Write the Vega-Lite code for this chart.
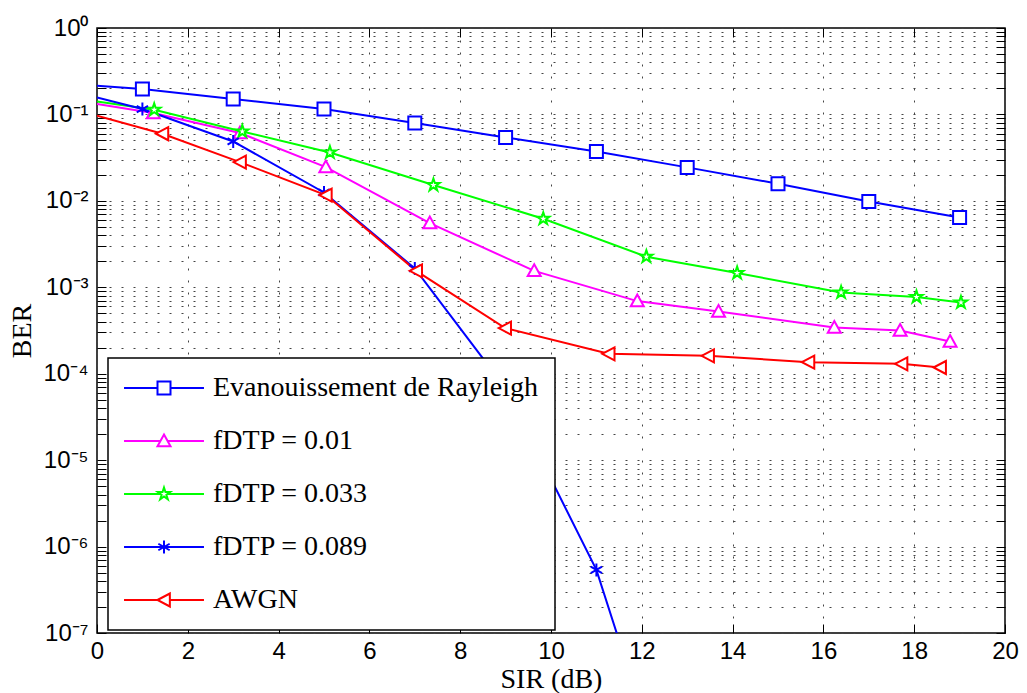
{
  "$schema": "https://vega.github.io/schema/vega-lite/v6.json",
  "width": 908,
  "height": 605,
  "autosize": {"type": "none"},
  "padding": {"left": 97, "top": 28, "right": 22, "bottom": 60},
  "background": "white",
  "data": {
    "values": [
      {"series": "Evanouissement de Rayleigh", "sir": 0, "ber": 0.215},
      {"series": "Evanouissement de Rayleigh", "sir": 1, "ber": 0.197},
      {"series": "Evanouissement de Rayleigh", "sir": 3, "ber": 0.151},
      {"series": "Evanouissement de Rayleigh", "sir": 5, "ber": 0.1155},
      {"series": "Evanouissement de Rayleigh", "sir": 7, "ber": 0.0796},
      {"series": "Evanouissement de Rayleigh", "sir": 9, "ber": 0.0542},
      {"series": "Evanouissement de Rayleigh", "sir": 11, "ber": 0.0373},
      {"series": "Evanouissement de Rayleigh", "sir": 13, "ber": 0.0244},
      {"series": "Evanouissement de Rayleigh", "sir": 15, "ber": 0.0158},
      {"series": "Evanouissement de Rayleigh", "sir": 17, "ber": 0.00984},
      {"series": "Evanouissement de Rayleigh", "sir": 19, "ber": 0.00643},
      {"series": "fDTP = 0.01", "sir": 0, "ber": 0.132},
      {"series": "fDTP = 0.01", "sir": 1.24, "ber": 0.1038},
      {"series": "fDTP = 0.01", "sir": 3.15, "ber": 0.0609},
      {"series": "fDTP = 0.01", "sir": 5.04, "ber": 0.0246},
      {"series": "fDTP = 0.01", "sir": 7.33, "ber": 0.00553},
      {"series": "fDTP = 0.01", "sir": 9.63, "ber": 0.00155},
      {"series": "fDTP = 0.01", "sir": 11.9, "ber": 0.000692},
      {"series": "fDTP = 0.01", "sir": 13.69, "ber": 0.000525},
      {"series": "fDTP = 0.01", "sir": 16.24, "ber": 0.000343},
      {"series": "fDTP = 0.01", "sir": 17.69, "ber": 0.000316},
      {"series": "fDTP = 0.01", "sir": 18.79, "ber": 0.000236},
      {"series": "fDTP = 0.033", "sir": 0, "ber": 0.1414},
      {"series": "fDTP = 0.033", "sir": 1.26, "ber": 0.1133},
      {"series": "fDTP = 0.033", "sir": 3.2, "ber": 0.0636},
      {"series": "fDTP = 0.033", "sir": 5.13, "ber": 0.0363},
      {"series": "fDTP = 0.033", "sir": 7.41, "ber": 0.01524},
      {"series": "fDTP = 0.033", "sir": 9.83, "ber": 0.00621},
      {"series": "fDTP = 0.033", "sir": 12.1, "ber": 0.00226},
      {"series": "fDTP = 0.033", "sir": 14.1, "ber": 0.00146},
      {"series": "fDTP = 0.033", "sir": 16.39, "ber": 0.000871},
      {"series": "fDTP = 0.033", "sir": 18.05, "ber": 0.000771},
      {"series": "fDTP = 0.033", "sir": 19.03, "ber": 0.000667},
      {"series": "fDTP = 0.089", "sir": 0, "ber": 0.157},
      {"series": "fDTP = 0.089", "sir": 1, "ber": 0.1155},
      {"series": "fDTP = 0.089", "sir": 3, "ber": 0.0487},
      {"series": "fDTP = 0.089", "sir": 5, "ber": 0.0125},
      {"series": "fDTP = 0.089", "sir": 7, "ber": 0.00165},
      {"series": "fDTP = 0.089", "sir": 9, "ber": 0.0000678},
      {"series": "fDTP = 0.089", "sir": 11, "ber": 0.000000537},
      {"series": "fDTP = 0.089", "sir": 13, "ber": 0.00000000029},
      {"series": "AWGN", "sir": 0, "ber": 0.0966},
      {"series": "AWGN", "sir": 1.44, "ber": 0.0598},
      {"series": "AWGN", "sir": 3.15, "ber": 0.0281},
      {"series": "AWGN", "sir": 5.04, "ber": 0.01167},
      {"series": "AWGN", "sir": 7.03, "ber": 0.00155},
      {"series": "AWGN", "sir": 8.99, "ber": 0.000337},
      {"series": "AWGN", "sir": 11.27, "ber": 0.00017},
      {"series": "AWGN", "sir": 13.46, "ber": 0.000161},
      {"series": "AWGN", "sir": 15.67, "ber": 0.000136},
      {"series": "AWGN", "sir": 17.72, "ber": 0.00013},
      {"series": "AWGN", "sir": 18.57, "ber": 0.000118}
    ]
  },
  "layer": [
    {
      "mark": {"type": "line", "strokeWidth": 2, "clip": true},
      "encoding": {
        "x": {
          "field": "sir", "type": "quantitative",
          "scale": {"domain": [0, 20], "nice": false, "zero": false},
          "axis": {
            "orient": "bottom", "title": "SIR (dB)",
            "values": [0, 2, 4, 6, 8, 10, 12, 14, 16, 18, 20],
            "grid": true, "labelPadding": 15,
            "titleBaseline": "alphabetic", "titleY": 54
          }
        },
        "y": {
          "field": "ber", "type": "quantitative",
          "scale": {"type": "log", "domain": [1e-7, 1], "nice": false},
          "axis": {
            "orient": "left", "title": "BER",
            "values": [1e-7, 2e-7, 3e-7, 4e-7, 5e-7, 6e-7, 7e-7, 8e-7, 9e-7, 1e-6, 2e-6, 3e-6, 4e-6, 5e-6, 6e-6, 7e-6, 8e-6, 9e-6, 1e-5, 2e-5, 3e-5, 4e-5, 5e-5, 6e-5, 7e-5, 8e-5, 9e-5, 1e-4, 2e-4, 3e-4, 4e-4, 5e-4, 6e-4, 7e-4, 8e-4, 9e-4, 0.001, 0.002, 0.003, 0.004, 0.005, 0.006, 0.007, 0.008, 0.009, 0.01, 0.02, 0.03, 0.04, 0.05, 0.06, 0.07, 0.08, 0.09, 0.1, 0.2, 0.3, 0.4, 0.5, 0.6, 0.7, 0.8, 0.9, 1],
            "labelExpr": "abs(log(datum.value)/LN10 - round(log(datum.value)/LN10)) < 0.001 ? ['10⁰','10⁻¹','10⁻²','10⁻³','10⁻⁴','10⁻⁵','10⁻⁶','10⁻⁷'][-round(log(datum.value)/LN10)] : ''",
            "grid": true, "labelPadding": 18,
            "titleBaseline": "alphabetic", "titleX": -67, "titleAngle": -90
          }
        },
        "stroke": {
          "field": "series", "type": "nominal",
          "scale": {
            "domain": ["Evanouissement de Rayleigh", "fDTP = 0.01", "fDTP = 0.033", "fDTP = 0.089", "AWGN", "none"],
            "range": ["#0000ff", "#ff00ff", "#00ff00", "#0000ff", "#ff0000", "#000000"]
          },
          "legend": {
            "title": null, "orient": "none", "legendX": 11, "legendY": 330,
            "values": ["Evanouissement de Rayleigh", "fDTP = 0.01", "fDTP = 0.033", "fDTP = 0.089", "AWGN"],
            "padding": 16, "rowPadding": 25,
            "strokeColor": "black", "fillColor": "white",
            "labelFont": "Liberation Serif", "labelFontSize": 28, "labelLimit": 0, "labelColor": "black",
            "symbolType": "M-6.15,0L6.15,0", "symbolSize": 169, "symbolOffset": 26, "labelOffset": 35,
            "symbolStrokeWidth": 2, "symbolFillColor": "transparent"
          }
        }
      }
    },
    {
      "transform": [{"filter": "datum.sir > 0 && datum.ber >= 1e-7"}],
      "mark": {"type": "point", "filled": false, "fill": "white", "strokeWidth": 2, "size": 169, "opacity": 1, "clip": true},
      "encoding": {
        "x": {
          "field": "sir", "type": "quantitative",
          "axis": {
            "orient": "top", "title": null, "labels": false, "grid": false,
            "values": [0, 2, 4, 6, 8, 10, 12, 14, 16, 18, 20]
          }
        },
        "y": {
          "field": "ber", "type": "quantitative",
          "axis": {
            "orient": "right", "title": null, "labels": false, "grid": false,
            "values": [1e-7, 2e-7, 3e-7, 4e-7, 5e-7, 6e-7, 7e-7, 8e-7, 9e-7, 1e-6, 2e-6, 3e-6, 4e-6, 5e-6, 6e-6, 7e-6, 8e-6, 9e-6, 1e-5, 2e-5, 3e-5, 4e-5, 5e-5, 6e-5, 7e-5, 8e-5, 9e-5, 1e-4, 2e-4, 3e-4, 4e-4, 5e-4, 6e-4, 7e-4, 8e-4, 9e-4, 0.001, 0.002, 0.003, 0.004, 0.005, 0.006, 0.007, 0.008, 0.009, 0.01, 0.02, 0.03, 0.04, 0.05, 0.06, 0.07, 0.08, 0.09, 0.1, 0.2, 0.3, 0.4, 0.5, 0.6, 0.7, 0.8, 0.9, 1]
          }
        },
        "color": {
          "field": "series", "type": "nominal",
          "scale": {
            "domain": ["Evanouissement de Rayleigh", "fDTP = 0.01", "fDTP = 0.033", "fDTP = 0.089", "AWGN"],
            "range": ["#0000ff", "#ff00ff", "#00ff00", "#0000ff", "#ff0000"]
          },
          "legend": {
            "title": null, "orient": "none", "legendX": 11, "legendY": 330,
            "padding": 16, "rowPadding": 25,
            "strokeColor": "transparent", "fillColor": "transparent",
            "labelFont": "Liberation Serif", "labelFontSize": 28, "labelLimit": 0, "labelExpr": "''",
            "symbolSize": 169, "symbolOffset": 26, "labelOffset": 35,
            "symbolStrokeWidth": 2, "symbolFillColor": "white"
          }
        },
        "shape": {
          "field": "series", "type": "nominal",
          "scale": {
            "domain": ["Evanouissement de Rayleigh", "fDTP = 0.01", "fDTP = 0.033", "fDTP = 0.089", "AWGN"],
            "range": ["square", "M0,-1L1,0.8L-1,0.8Z", "M0,-1L0.2245,-0.309L0.951,-0.309L0.363,0.118L0.588,0.809L0,0.382L-0.588,0.809L-0.363,0.118L-0.951,-0.309L-0.2245,-0.309Z", "M0,-1L0,1M-0.87,-0.5L0.87,0.5M-0.87,0.5L0.87,-0.5", "M-1,0L0.9,-1L0.9,1Z"]
          },
          "legend": {
            "title": null, "orient": "none", "legendX": 11, "legendY": 330,
            "padding": 16, "rowPadding": 25,
            "strokeColor": "transparent", "fillColor": "transparent",
            "labelFont": "Liberation Serif", "labelFontSize": 28, "labelLimit": 0, "labelExpr": "''",
            "symbolSize": 169, "symbolOffset": 26, "labelOffset": 35,
            "symbolStrokeWidth": 2, "symbolFillColor": "white"
          }
        }
      }
    }
  ],
  "resolve": {"axis": {"x": "independent", "y": "independent"}},
  "config": {
    "view": {"stroke": "black", "strokeWidth": 1.5},
    "legend": {"strokeWidth": 1.5},
    "axis": {
      "domain": false, "ticks": true, "tickColor": "black", "tickWidth": 1, "tickSize": -9,
      "labelFont": "Liberation Sans", "labelFontSize": 24, "labelColor": "black",
      "labelOverlap": false, "labelFlush": false, "labelBound": false,
      "gridColor": "#444444", "gridDash": [2, 10], "gridWidth": 1,
      "titleFont": "Liberation Serif", "titleFontSize": 28, "titleFontWeight": "normal", "titleColor": "black"
    }
  }
}
